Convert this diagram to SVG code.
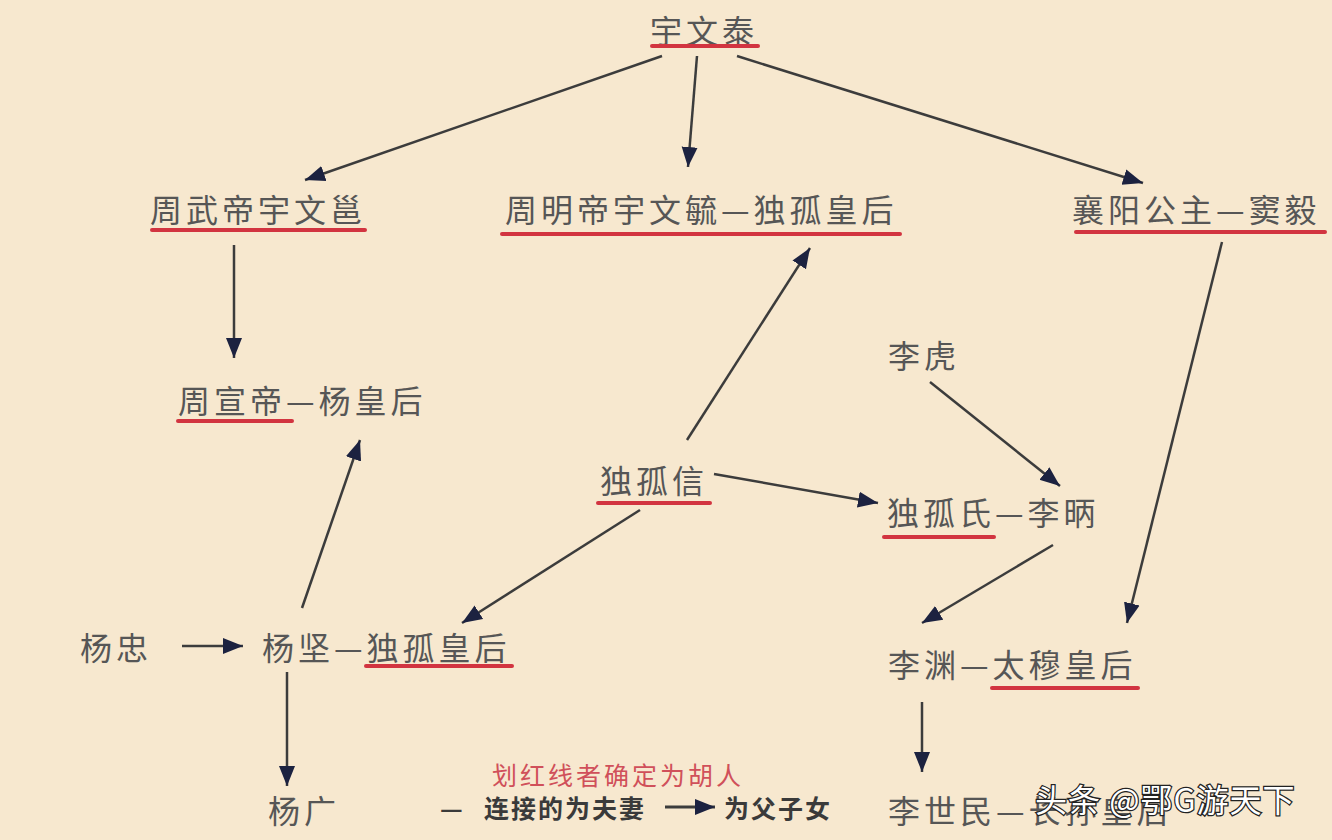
<svg xmlns="http://www.w3.org/2000/svg" width="1332" height="840" viewBox="0 0 1332 840">
<defs>
<marker id="ah" markerUnits="userSpaceOnUse" markerWidth="22" markerHeight="18" refX="20" refY="9" orient="auto">
<path d="M0,1 L20,9 L0,17 Z" fill="#1c2240"/>
</marker>
<style>
.t{font-family:"Noto Sans CJK SC","Noto Sans CJK JP",sans-serif;font-size:32px;fill:#565656;letter-spacing:4px}
.u{stroke:#d23440;stroke-width:4;stroke-linecap:round}
.c{stroke:#3c3c3c;stroke-width:2.5;fill:none;marker-end:url(#ah)}
.lr{font-family:"Noto Sans CJK SC",sans-serif;font-size:25px;fill:#d0505a;letter-spacing:3px}
.lb{font-family:"Noto Sans CJK SC",sans-serif;font-size:25px;font-weight:bold;fill:#3a3a3a;letter-spacing:2px}
.wm{font-family:"Noto Sans CJK SC",sans-serif;font-size:32px;fill:#ffffff;stroke:#222;stroke-width:2.5px;paint-order:stroke;letter-spacing:1px}
</style>
</defs>
<rect width="1332" height="840" fill="#f7e8cf"/>
<g id="connectors">
<line class="c" x1="662" y1="56" x2="305" y2="180"/>
<line class="c" x1="697" y1="56" x2="688" y2="167"/>
<line class="c" x1="737" y1="56" x2="1143" y2="183"/>
<line class="c" x1="234" y1="245" x2="234" y2="358"/>
<line class="c" x1="302" y1="608" x2="360" y2="440"/>
<line class="c" x1="687" y1="440" x2="810" y2="248"/>
<line class="c" x1="640" y1="510" x2="462" y2="623"/>
<line class="c" x1="714" y1="474" x2="878" y2="503"/>
<line class="c" x1="930" y1="382" x2="1060" y2="486"/>
<line class="c" x1="1053" y1="545" x2="922" y2="623"/>
<line class="c" x1="1222" y1="242" x2="1127" y2="623"/>
<line class="c" x1="182" y1="646" x2="243" y2="646"/>
<line class="c" x1="287" y1="672" x2="287" y2="786"/>
<line class="c" x1="922" y1="702" x2="922" y2="772"/>
</g>
<g id="n-yuwentai"><text class="t" x="650" y="43">宇文泰</text><line class="u" x1="652" y1="46" x2="758" y2="46"/></g>
<g id="n-zhouwudi"><text class="t" x="150" y="222">周武帝宇文邕</text><line class="u" x1="152" y1="230" x2="365" y2="230"/></g>
<g id="n-zhoumingdi"><text class="t" x="505" y="222">周明帝宇文毓—独孤皇后</text><line class="u" x1="502" y1="234" x2="900" y2="234"/></g>
<g id="n-xiangyang"><text class="t" x="1072" y="222">襄阳公主—窦毅</text><line class="u" x1="1076" y1="232" x2="1325" y2="232"/></g>
<g id="n-zhouxuandi"><text class="t" x="178" y="413">周宣帝—杨皇后</text><line class="u" x1="178" y1="421" x2="292" y2="421"/></g>
<g id="n-lihu"><text class="t" x="888" y="368">李虎</text></g>
<g id="n-dugu-xin"><text class="t" x="600" y="493">独孤信</text><line class="u" x1="598" y1="503" x2="710" y2="503"/></g>
<g id="n-dugu-libing"><text class="t" x="887" y="525">独孤氏—李昞</text><line class="u" x1="884" y1="537" x2="994" y2="537"/></g>
<g id="n-yangzhong"><text class="t" x="80" y="660">杨忠</text></g>
<g id="n-yangjian"><text class="t" x="262" y="660">杨坚—独孤皇后</text><line class="u" x1="366" y1="666" x2="512" y2="666"/></g>
<g id="n-liyuan"><text class="t" x="888" y="677">李渊—太穆皇后</text><line class="u" x1="992" y1="688" x2="1138" y2="688"/></g>
<g id="n-yangguang"><text class="t" x="268" y="823">杨广</text></g>
<g id="n-lishimin"><text class="t" x="888" y="823">李世民—长孙皇后</text></g>
<g id="legend">
<text class="lr" x="492" y="785">划红线者确定为胡人</text>
<text class="lb" x="440" y="818">—</text>
<text class="lb" x="484" y="818">连接的为夫妻</text>
<line x1="665" y1="807" x2="715" y2="807" stroke="#3c3c3c" stroke-width="3" marker-end="url(#ah)"/>
<text class="lb" x="724" y="818">为父子女</text>
</g>
<g id="watermark"><text class="wm" x="1035" y="812">头条 @鄂G游天下</text></g>
</svg>
